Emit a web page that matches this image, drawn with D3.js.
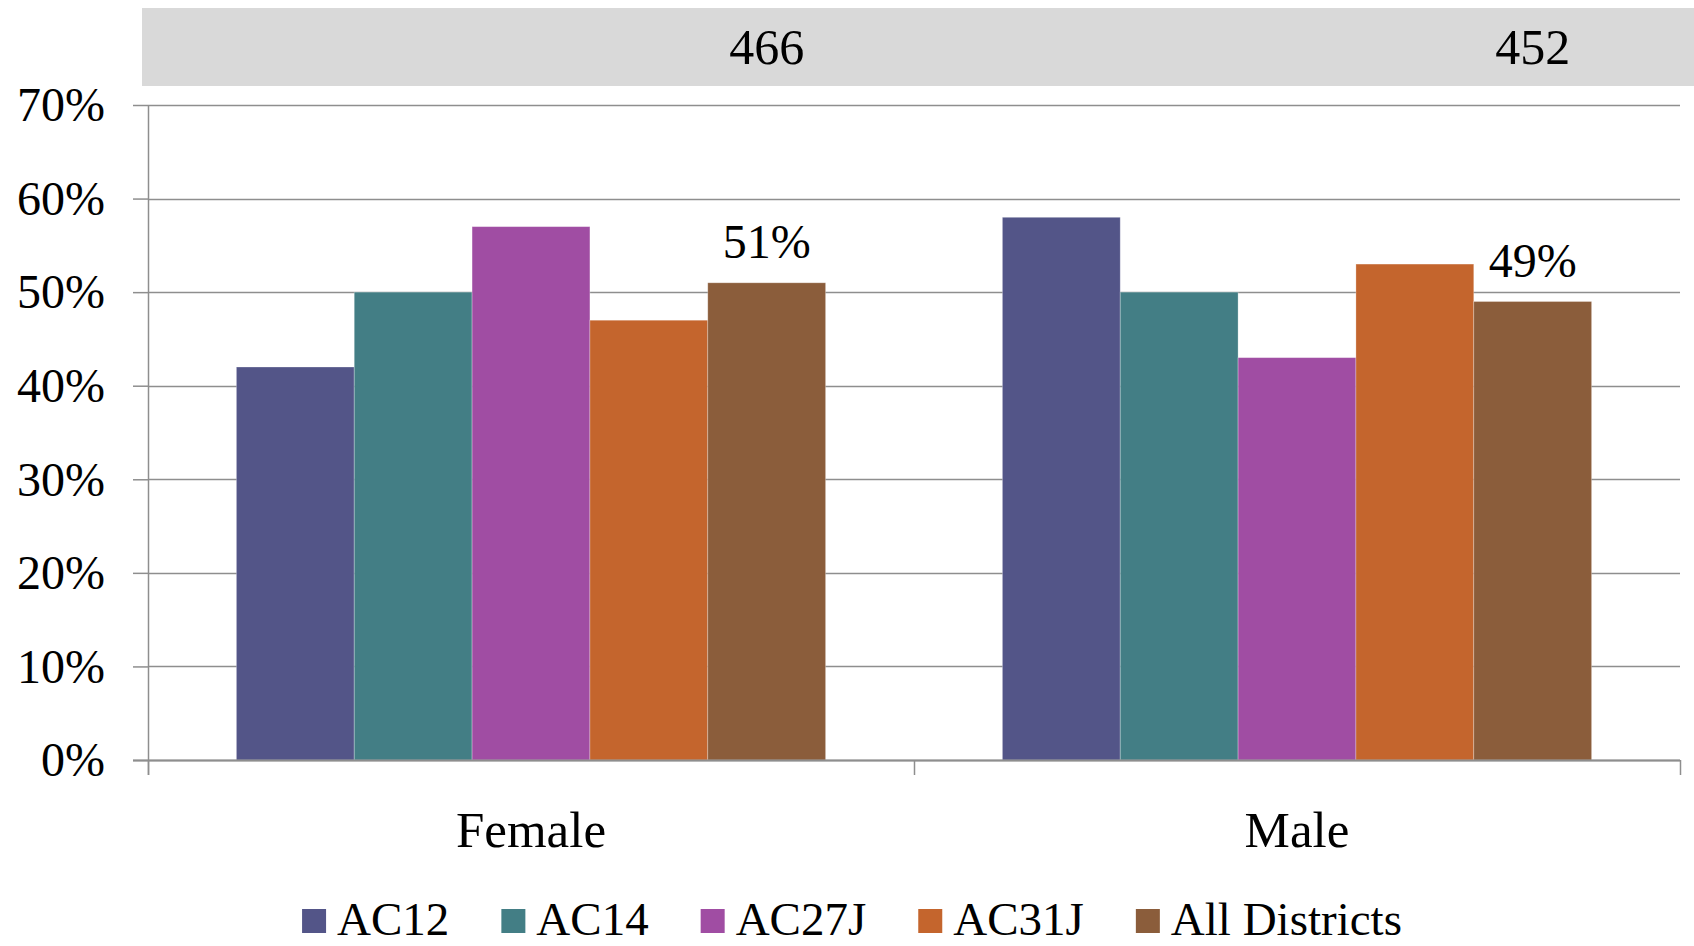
<!DOCTYPE html>
<html>
<head>
<meta charset="utf-8">
<script src="https://cdn.jsdelivr.net/npm/d3@7"></script>
<style>
  html, body { margin: 0; padding: 0; background: #fff; }
  svg { display: block; }
  text { font-family: "Liberation Serif", "DejaVu Serif", serif; fill: #000; }
</style>
</head>
<body>
<svg id="chart" width="1694" height="946"></svg>
<script>
// ---- data ----
const categories = ["Female", "Male"];
const series = ["AC12", "AC14", "AC27J", "AC31J", "All Districts"];
const femaleValues = [0.42, 0.50, 0.57, 0.47, 0.51];
const maleValues = [0.58, 0.50, 0.43, 0.53, 0.49];
const counts = [466, 452];
const colors = ["#535588", "#437E85", "#A04DA3", "#C4652D", "#8B5D3B"];
const yTicks = [0, 0.1, 0.2, 0.3, 0.4, 0.5, 0.6, 0.7];

const valuesByCat = [femaleValues, maleValues];
const labelSeries = "All Districts";

(function () {
// ---- layout ----
const svg = d3.select("#chart");
const plotLeft = 148, plotRight = 1680, plotTop = 105, plotBottom = 760;

const x0 = d3.scaleBand().domain(categories).range([plotLeft, plotRight]).padding(0);
const x1 = d3.scaleBand().domain(series).range([0, x0.bandwidth()])
  .paddingInner(0).paddingOuter(0.75);
const y = d3.scaleLinear().domain([0, 0.7]).range([plotBottom, plotTop]);
const color = d3.scaleOrdinal().domain(series).range(colors);

// header band
svg.append("rect")
  .attr("x", 142).attr("y", 8)
  .attr("width", 1694 - 142).attr("height", 78)
  .attr("fill", "#d9d9d9");

svg.selectAll("text.count")
  .data(categories)
  .join("text")
  .attr("class", "count")
  .attr("x", (c) => x0(c) + x1(labelSeries) + x1.bandwidth() / 2)
  .attr("y", 64)
  .attr("text-anchor", "middle")
  .style("font-size", "50px")
  .text((c, i) => counts[i]);

// gridlines
svg.append("g")
  .selectAll("line")
  .data(yTicks)
  .join("line")
  .attr("x1", plotLeft).attr("x2", plotRight)
  .attr("y1", (d) => Math.round(y(d)) + 0.5)
  .attr("y2", (d) => Math.round(y(d)) + 0.5)
  .attr("stroke", "#8e8e8e")
  .attr("stroke-width", 1.5);

// y axis
const yAxis = d3.axisLeft(y)
  .tickValues(yTicks)
  .tickSize(15)
  .tickPadding(28)
  .tickFormat(d3.format(".0%"));
const gy = svg.append("g")
  .attr("transform", `translate(${plotLeft},0)`)
  .call(yAxis);
gy.select(".domain").remove();
gy.selectAll(".tick line").attr("stroke", "#8e8e8e").attr("stroke-width", 1.5);
gy.selectAll(".tick text")
  .style("font-size", "48px")
  .style("font-family", "'Liberation Serif', serif")
  .attr("fill", "#000")
  .attr("dy", "0.33em");

// vertical axis line
svg.append("line")
  .attr("x1", plotLeft + 0.5).attr("x2", plotLeft + 0.5)
  .attr("y1", plotTop).attr("y2", plotBottom + 15)
  .attr("stroke", "#8e8e8e").attr("stroke-width", 1.5);

// bars
const groups = svg.append("g")
  .selectAll("g")
  .data(categories)
  .join("g")
  .attr("transform", (c) => `translate(${x0(c)},0)`);

groups.selectAll("rect")
  .data((c, i) => series.map((s, j) => ({ s, v: valuesByCat[i][j] })))
  .join("rect")
  .attr("x", (d) => x1(d.s))
  .attr("y", (d) => y(d.v))
  .attr("width", x1.bandwidth())
  .attr("height", (d) => y(0) - y(d.v))
  .attr("fill", (d) => color(d.s))
  .attr("stroke", "#ffffff")
  .attr("stroke-opacity", 0.35)
  .attr("stroke-width", 0.8);

// data labels on All Districts
groups.append("text")
  .attr("x", x1(labelSeries) + x1.bandwidth() / 2)
  .attr("y", (c, i) => y(valuesByCat[i][series.indexOf(labelSeries)]) - 25)
  .attr("text-anchor", "middle")
  .style("font-size", "48px")
  .text((c, i) => d3.format(".0%")(valuesByCat[i][series.indexOf(labelSeries)]));

// baseline (drawn over bars)
svg.append("line")
  .attr("x1", plotLeft - 15).attr("x2", plotRight)
  .attr("y1", y(0) + 0.5).attr("y2", y(0) + 0.5)
  .attr("stroke", "#8e8e8e").attr("stroke-width", 2);

// category ticks
const catBounds = categories.map((c) => x0(c)).concat([plotRight]);
svg.append("g")
  .selectAll("line")
  .data(catBounds)
  .join("line")
  .attr("x1", (d) => d + 0.5).attr("x2", (d) => d + 0.5)
  .attr("y1", plotBottom).attr("y2", plotBottom + 15)
  .attr("stroke", "#8e8e8e").attr("stroke-width", 1.5);

// category labels
svg.append("g")
  .selectAll("text")
  .data(categories)
  .join("text")
  .attr("x", (c) => x0(c) + x0.bandwidth() / 2)
  .attr("y", 847)
  .attr("text-anchor", "middle")
  .style("font-size", "51px")
  .text((c) => c);

// legend
const legend = svg.append("g");
const items = legend.selectAll("g")
  .data(series)
  .join("g");
items.append("rect")
  .attr("width", 24).attr("height", 24)
  .attr("y", 909)
  .attr("fill", (s) => color(s));
items.append("text")
  .attr("y", 935)
  .attr("x", 35)
  .style("font-size", "47px")
  .text((s) => s);
let cursor = 0;
const gap = 52;
const pos = [];
items.each(function () {
  const w = d3.select(this).select("text").node().getComputedTextLength();
  pos.push(cursor);
  cursor += 35 + w + gap;
});
const total = cursor - gap;
const legendStart = 852 - total / 2;
items.each(function (s, i) {
  d3.select(this).select("rect").attr("x", legendStart + pos[i]);
  d3.select(this).select("text").attr("x", legendStart + pos[i] + 35);
});
})();
</script>
</body>
</html>
